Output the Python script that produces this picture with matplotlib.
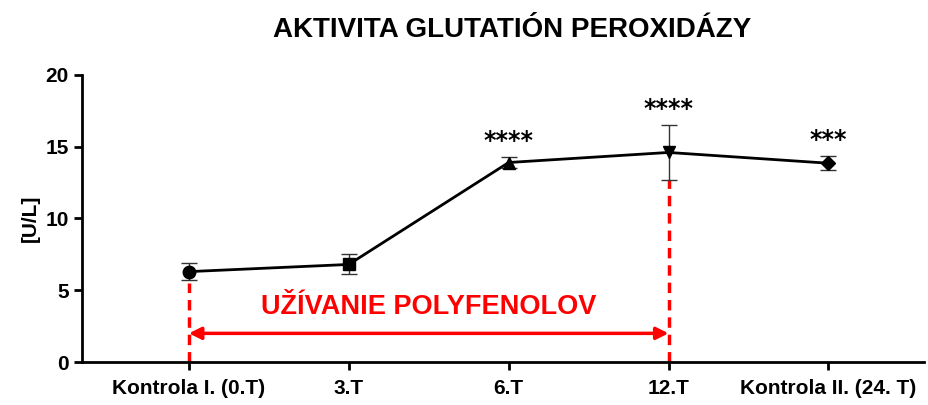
import matplotlib
matplotlib.use("Agg")
import matplotlib.pyplot as plt

plt.rcParams['font.family'] = ['Liberation Sans', 'DejaVu Sans']
plt.rcParams['font.weight'] = 'bold'

groups = ["Kontrola I. (0.T)", "3.T", "6.T", "12.T", "Kontrola II. (24. T)"]
means = [6.3, 6.8, 13.9, 14.6, 13.85]
errors = [0.6, 0.7, 0.35, 1.9, 0.5]
markers = ["o", "s", "^", "v", "D"]
stars = ["", "", "****", "****", "***"]

x = list(range(len(groups)))

fig = plt.figure(figsize=(9.29, 4.05), dpi=100)
ax = fig.add_axes([0.088, 0.106, 0.907, 0.709])

ax.plot(x, means, color="black", lw=2, zorder=3)
for i in x:
    ax.errorbar(i, means[i], yerr=errors[i], fmt=markers[i], color="black",
                ms=9 if markers[i] != "D" else 7, ecolor="#333333",
                elinewidth=1, capsize=6, capthick=1, zorder=4)
    if stars[i]:
        ax.text(i, means[i] + errors[i] + 1.15, stars[i], ha="center", va="center",
                fontsize=17, fontweight="bold", family="DejaVu Sans")

# intervention period
ax.plot([0, 0], [0, means[0] - errors[0] - 0.2], color="red", lw=2.5, ls=(0, (3, 2)), zorder=2)
ax.plot([3, 3], [0, means[3] - errors[3]], color="red", lw=2.5, ls=(0, (3, 2)), zorder=2)
ax.annotate("", xy=(3, 2.0), xytext=(0, 2.0),
            arrowprops=dict(arrowstyle="<|-|>", color="red", lw=2.5, mutation_scale=18,
                            shrinkA=0, shrinkB=0))
ax.text(1.5, 3.85, "UŽÍVANIE POLYFENOLOV", color="red", ha="center", va="center",
        fontsize=19.5, fontweight="bold")

ax.set_xlim(-0.67, 4.6)
ax.set_ylim(0, 20)
ax.set_xticks(x)
ax.set_xticklabels(groups, fontsize=15, fontweight="bold")
ax.set_yticks([0, 5, 10, 15, 20])
ax.tick_params(axis="y", labelsize=15, width=2, length=6)
ax.tick_params(axis="x", width=2, length=6, pad=6)
for lab in ax.get_yticklabels():
    lab.set_fontweight("bold")
ax.set_ylabel("[U/L]", fontsize=15, fontweight="bold", labelpad=4)
ax.spines["top"].set_visible(False)
ax.spines["right"].set_visible(False)
ax.spines["left"].set_linewidth(2)
ax.spines["bottom"].set_linewidth(2)

fig.text(0.551, 0.926, "AKTIVITA GLUTATIÓN PEROXIDÁZY", ha="center", va="center",
         fontsize=20, fontweight="bold")

fig.savefig("out.png", dpi=100)
